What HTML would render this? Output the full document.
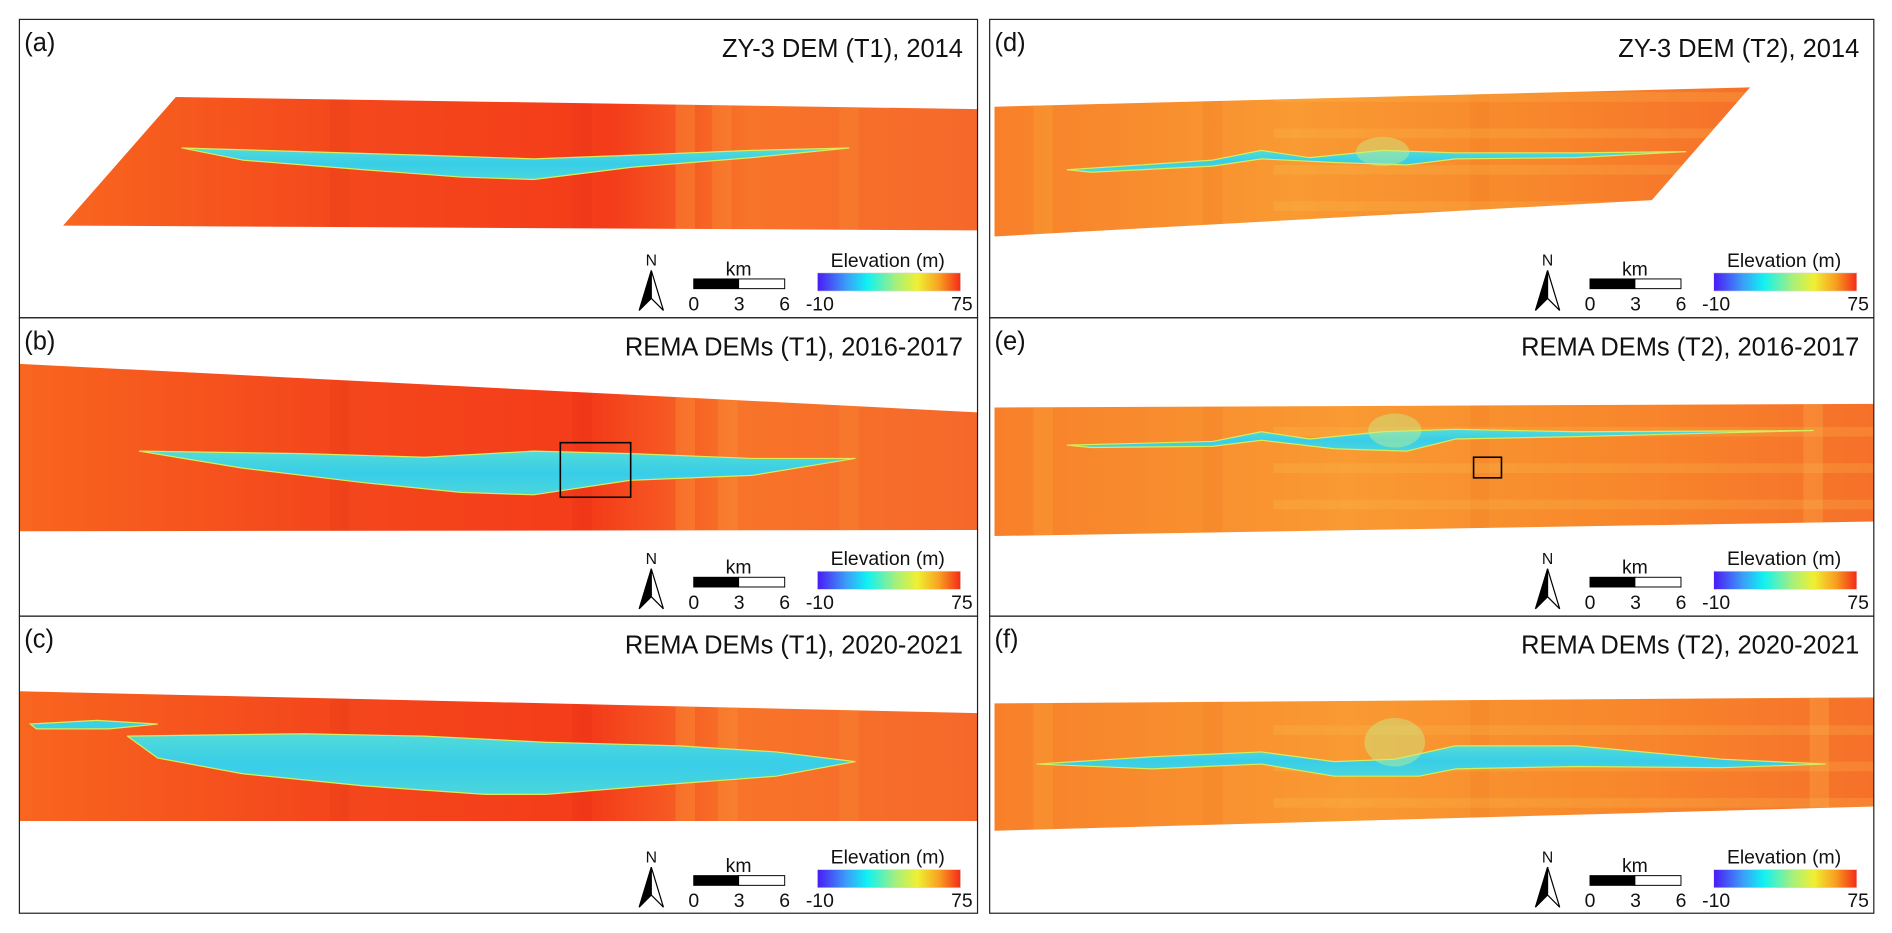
<!DOCTYPE html>
<html><head><meta charset="utf-8"><style>
html,body{margin:0;padding:0;background:#fff;}
svg{display:block;font-family:"Liberation Sans",Arial,sans-serif;}
</style></head><body>
<svg id="fig" width="1892" height="933" viewBox="0 0 1560 769.3" preserveAspectRatio="none" xmlns="http://www.w3.org/2000/svg">
<defs>
<linearGradient id="cbar" x1="0" x2="1" y1="0" y2="0">
<stop offset="0" stop-color="#4a1af5"/><stop offset="0.2" stop-color="#3c9cf8"/><stop offset="0.35" stop-color="#10f2f2"/><stop offset="0.55" stop-color="#a6f07c"/><stop offset="0.7" stop-color="#f0f032"/><stop offset="0.85" stop-color="#f8a020"/><stop offset="1" stop-color="#f42a18"/>
</linearGradient>
<linearGradient id="redL" x1="0" x2="1" y1="0" y2="0">
<stop offset="0" stop-color="#f8661f"/><stop offset="0.3" stop-color="#f4481c"/><stop offset="0.6" stop-color="#f43c1a"/><stop offset="0.75" stop-color="#f8742a"/><stop offset="1" stop-color="#f6682a"/>
</linearGradient>
<linearGradient id="orR" x1="0" x2="1" y1="0" y2="0">
<stop offset="0" stop-color="#f8802a"/><stop offset="0.4" stop-color="#f99a32"/><stop offset="0.7" stop-color="#f8882c"/><stop offset="1" stop-color="#f6702a"/>
</linearGradient>
<linearGradient id="lake" x1="0" x2="0" y1="0" y2="1">
<stop offset="0" stop-color="#52dcd8"/><stop offset="0.5" stop-color="#38cde8"/><stop offset="1" stop-color="#4ad6dc"/>
</linearGradient>
</defs>
<g id="root"></g>
</svg>
<script>
const panelLabels = ["(a)","(b)","(c)","(d)","(e)","(f)"];
const panelTitles = ["ZY-3 DEM (T1), 2014","REMA DEMs (T1), 2016-2017","REMA DEMs (T1), 2020-2021","ZY-3 DEM (T2), 2014","REMA DEMs (T2), 2016-2017","REMA DEMs (T2), 2020-2021"];
const scaleTicks = ["0","3","6"];
const cbarTicks = ["-10","75"];
const NS="http://www.w3.org/2000/svg";
const root=document.getElementById('root');
function mk(tag,attrs,parent){const e=document.createElementNS(NS,tag);for(const k in attrs)e.setAttribute(k,attrs[k]);(parent||root).appendChild(e);return e;}
const cols=[{x0:16,x1:806},{x0:816,x1:1545}];
const rows=[16,262,508,753];
const maps=[
 {poly:"145,80 806,90 806,190 52,186",fill:"url(#redL)",lake:"150,122 250,125 350,128 440,131 520,128 620,124 700,122 620,130 520,138 440,148 380,146 300,140 200,132",
  stripes:[[280,0.08,"#c81a10"],[480,0.1,"#d01a10"],[565,0.25,"#fbb040"],[595,0.2,"#fbb040"],[700,0.2,"#fb9a38"]]},
 {poly:"16,300 806,340 806,437 16,438",fill:"url(#redL)",lake:"115,372 250,374 350,377 440,372 520,374 620,378 705,378 620,392 520,396 440,408 380,406 300,398 200,386",
  stripes:[[280,0.08,"#c81a10"],[480,0.1,"#d01a10"],[565,0.25,"#fbb040"],[600,0.2,"#fbb040"],[700,0.2,"#fb9a38"]],box:[462,365,58,45]},
 {poly:"16,570 806,588 806,677 16,677",fill:"url(#redL)",lake:"105,607 250,605 350,607 450,612 560,615 640,620 705,628 640,640 560,646 450,655 400,655 300,648 200,638 130,625",
  lake2:"25,597 80,594 130,597 90,601 30,601",
  stripes:[[280,0.08,"#c81a10"],[480,0.1,"#d01a10"],[565,0.25,"#fbb040"],[600,0.2,"#fbb040"],[700,0.2,"#fb9a38"]]},
 {poly:"820,88 1443,72 1362,165 820,195",fill:"url(#orR)",lake:"880,140 1000,132 1040,124 1080,130 1140,124 1200,126 1300,126 1390,125 1300,130 1200,131 1160,136 1100,134 1040,131 1000,137 900,142",
  stripes:[[860,0.2,"#fbc040"],[1000,0.12,"#f0641c"],[1220,0.12,"#f0641c"]],patch:[1140,125,22,12]},
 {poly:"820,336 1545,333 1545,430 820,442",fill:"url(#orR)",lake:"880,367 1000,364 1040,356 1080,362 1140,356 1200,354 1300,356 1495,355 1300,360 1200,362 1160,372 1100,370 1040,363 1000,368 900,369",
  stripes:[[860,0.2,"#fbc040"],[1000,0.12,"#f0641c"],[1220,0.12,"#f0641c"],[1495,0.25,"#fbc050"]],patch:[1150,355,22,14],box:[1215,377,23,17]},
 {poly:"820,580 1545,575 1545,665 820,685",fill:"url(#orR)",lake:"855,630 950,624 1040,620 1100,628 1150,626 1200,615 1300,615 1420,626 1505,630 1420,633 1300,632 1200,634 1170,640 1100,640 1040,630 950,634",
  stripes:[[860,0.2,"#fbc040"],[1000,0.12,"#f0641c"],[1220,0.12,"#f0641c"],[1500,0.25,"#fbc050"]],patch:[1150,612,25,20]}
];
for(let c=0;c<2;c++){
 for(let r=0;r<3;r++){
  const i=c*3+r, x0=cols[c].x0, x1=cols[c].x1, y0=rows[r], y1=rows[r+1];
  const g=mk('g',{});
  
  
  const m=maps[i];
  const cid='clip'+i;
  const cp=mk('clipPath',{id:cid},g); mk('polygon',{points:m.poly},cp);
  const dem=mk('polygon',{points:m.poly,fill:m.fill},g);
  
  
  const sg=mk('g',{'clip-path':'url(#'+cid+')'},g);
  m.stripes.forEach(s=>{mk('rect',{x:s[0]-8,y:y0,width:16,height:y1-y0,fill:s[2],opacity:s[1]},sg);});
  if(c===1){for(let k=0;k<5;k++){mk('rect',{x:1050,y:y0+60+k*30,width:500,height:8,fill:'#fcc454',opacity:0.22},sg);}}
  const lk=mk('polygon',{points:m.lake,fill:'url(#lake)',stroke:'#d8ec5a','stroke-width':1,'stroke-linejoin':'round'},g);
  
  
  if(m.lake2){const l2=mk('polygon',{points:m.lake2,fill:'#3ad0e6',stroke:'#d8ec5a','stroke-width':1},g);
   
   }
  if(m.patch){const p=mk('ellipse',{cx:m.patch[0],cy:m.patch[1],rx:m.patch[2],ry:m.patch[3],fill:'#c8f08a',opacity:0.45},g);
   
   }
  if(m.box){const b=mk('rect',{x:m.box[0],y:m.box[1],width:m.box[2],height:m.box[3],fill:'none',stroke:'#000','stroke-width':1.3},g);
   
   }
  const fr=mk('rect',{x:x0,y:y0,width:x1-x0,height:y1-y0,fill:'none',stroke:'#222','stroke-width':1},g);
  
  
  const lb=mk('text',{x:x0+4,y:y0+26,'font-size':21,fill:'#111'},g); lb.textContent=panelLabels[i];
  
  
  const tt=mk('text',{x:x1-12,y:y0+31,'font-size':21,fill:'#111','text-anchor':'end'},g); tt.textContent=panelTitles[i];
  
  
  const L=mk('g',{transform:'translate('+(c===0?0:x1-806)+','+(y0-16)+')'},g);
  
  
  const nt=mk('text',{x:537,y:219,'font-size':13,'text-anchor':'middle',fill:'#111'},L); nt.textContent='N';
  
  
  const na=mk('path',{d:'M537,223 L527,256 L537,246 Z',fill:'#000',stroke:'#000','stroke-width':1},L);
  
  
  mk('path',{d:'M537,223 L547,256 L537,246 Z',fill:'#fff',stroke:'#000','stroke-width':1},L);
  const km=mk('text',{x:609,y:227,'font-size':16,'text-anchor':'middle',fill:'#111'},L); km.textContent='km';
  
  
  const sb=mk('rect',{x:572,y:230,width:37,height:8,fill:'#000',stroke:'#000','stroke-width':0.8},L);
  
  
  mk('rect',{x:609,y:230,width:38,height:8,fill:'#fff',stroke:'#000','stroke-width':0.8},L);
  scaleTicks.forEach((t,k)=>{const e=mk('text',{x:572+k*37.5,y:256,'font-size':16,'text-anchor':'middle',fill:'#111'},L);e.textContent=t;
   
   });
  const et=mk('text',{x:732,y:220,'font-size':16,'text-anchor':'middle',fill:'#111'},L); et.textContent='Elevation (m)';
  
  
  const cb=mk('rect',{x:674,y:225,width:118,height:15,fill:'url(#cbar)',stroke:'#ddd','stroke-width':0.5},L);
  
  
  const t0=mk('text',{x:676,y:256,'font-size':16,'text-anchor':'middle',fill:'#111'},L); t0.textContent=cbarTicks[0];
  
  
  const t1=mk('text',{x:802,y:256,'font-size':16,'text-anchor':'end',fill:'#111'},L); t1.textContent=cbarTicks[1];
  
  
 }
}
</script>
</body></html>
